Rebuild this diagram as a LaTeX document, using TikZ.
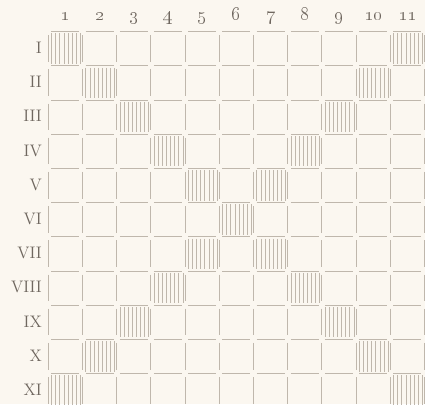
\documentclass[tikz,border=0pt]{standalone}
\definecolor{paper}{HTML}{FBF7F0}
\definecolor{rulegray}{HTML}{BFB7AC}
\definecolor{ink}{HTML}{6F675F}

\begin{document}
\begin{tikzpicture}[x=0.9cm, y=0.9cm,
    cellrule/.style={rulegray, line width=0.8pt},
    hatchline/.style={rulegray, line width=0.75pt},
    lbl/.style={text=ink, inner sep=0pt}]
  % the paper
  \fill[paper] (-1.412,0.927) rectangle (11.015,-10.886);
  \useasboundingbox (-1.412,0.927) rectangle (11.015,-10.886);
  % column headers
  \foreach \c in {1,...,11}
    \node[lbl, font=\fontsize{15}{17}\selectfont, anchor=base]
      (col-\c) at ({\c-0.5},0.33) {\oldstylenums{\c}};
  % row labels
  \foreach \r/\rn in {1/I, 2/II, 3/III, 4/IV, 5/V, 6/VI,
                      7/VII, 8/VIII, 9/IX, 10/X, 11/XI}
    \node[lbl, font=\fontsize{12.5}{15}\selectfont, anchor=base east]
      (row-\r) at (-0.18,{-\r+0.36}) {\rn};
  % broken rules, horizontal pieces
  \foreach \r in {0,...,11}
    \foreach \c in {0,...,10}
      \draw[cellrule] ({\c+0.09},-\r) -- ({\c+0.91},-\r);
  % broken rules, vertical pieces
  \foreach \c in {0,...,11}
    \foreach \r in {0,...,10}
      \draw[cellrule] (\c,{-\r-0.1}) -- (\c,{-\r-0.88});
  % hatched cells on both diagonals
  \foreach \r in {1,...,11} {
    \pgfmathtruncatemacro{\m}{12-\r}
    \foreach \c in {\r,\m}
      \foreach \k in {0,...,7}
        \draw[hatchline] ({\c-0.9+0.12*\k},{-\r+0.95}) --
          ({\c-0.9+0.12*\k},{-\r+0.06});
  }
\end{tikzpicture}
\end{document}
